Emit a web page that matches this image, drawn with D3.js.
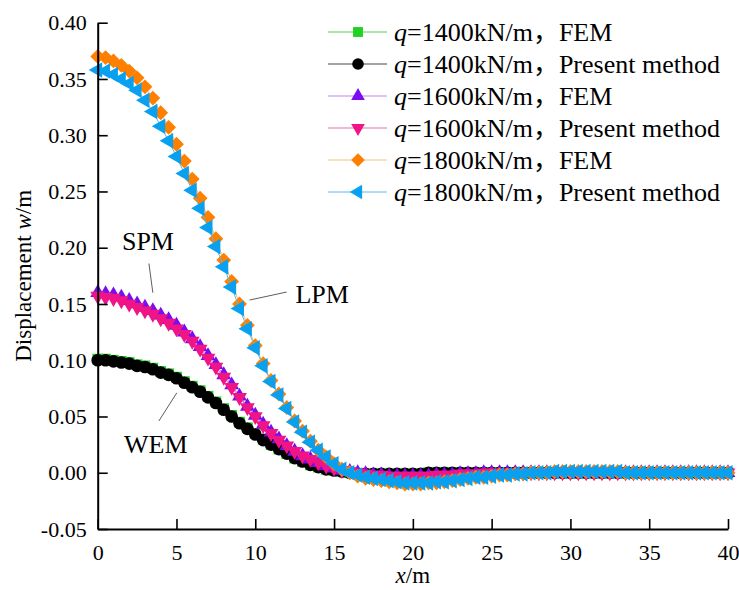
<!DOCTYPE html>
<meta charset="utf-8" />
<style>
  body { margin: 0; background: #fff; }
  text { font-family: "Liberation Serif", "Times New Roman", "Noto Sans CJK SC", serif; fill: #000; }
</style>
<svg width="739" height="590"></svg>
<script src="https://d3js.org/d3.v7.min.js"></script>
<script>
  // distance along the road, m
  var xValues = [0, 0.5, 1, 1.5, 2, 2.5, 3, 3.5, 4, 4.5, 5, 5.5, 6, 6.5, 7, 7.5, 8, 8.5, 9, 9.5,
    10, 10.5, 11, 11.5, 12, 12.5, 13, 13.5, 14, 14.5, 15, 15.5, 16, 16.5, 17, 17.5, 18, 18.5, 19, 19.5,
    20, 20.5, 21, 21.5, 22, 22.5, 23, 23.5, 24, 24.5, 25, 25.5, 26, 26.5, 27, 27.5, 28, 28.5, 29, 29.5,
    30, 30.5, 31, 31.5, 32, 32.5, 33, 33.5, 34, 34.5, 35, 35.5, 36, 36.5, 37, 37.5, 38, 38.5, 39, 39.5, 40];

  // q=1400 (WEM)
  var fem1400 = [0.101, 0.101, 0.100, 0.099, 0.098, 0.096, 0.095, 0.093, 0.090, 0.088,
    0.085, 0.081, 0.077, 0.073, 0.068, 0.063, 0.057, 0.051, 0.045, 0.040,
    0.035, 0.030, 0.025, 0.021, 0.017, 0.013, 0.010, 0.007, 0.005, 0.003,
    0.002, 0.001, 0.000, -0.001, -0.001, -0.001, -0.001, -0.001, -0.001, -0.001,
    -0.001, -0.001, 0, 0, 0, 0, 0, 0, 0, 0,
    0, 0, 0, 0, 0, 0, 0, 0, 0, 0,
    0, 0, 0, 0, 0, 0, 0, 0, 0, 0,
    0, 0, 0, 0, 0, 0, 0, 0, 0, 0, 0];
  var pm1400 = [0.100, 0.100, 0.099, 0.098, 0.097, 0.095, 0.094, 0.092, 0.089, 0.087,
    0.084, 0.080, 0.076, 0.072, 0.067, 0.062, 0.056, 0.050, 0.044, 0.039,
    0.034, 0.029, 0.025, 0.021, 0.017, 0.013, 0.010, 0.007, 0.005, 0.003,
    0.002, 0.001, 0.000, -0.001, -0.001, -0.001, -0.001, -0.001, -0.001, -0.001,
    -0.001, -0.001, 0, 0, 0, 0, 0, 0, 0, 0,
    0, 0, 0, 0, 0, 0, 0, 0, 0, 0,
    0, 0, 0, 0, 0, 0, 0, 0, 0, 0,
    0, 0, 0, 0, 0, 0, 0, 0, 0, 0, 0];

  // q=1600 (SPM)
  var fem1600 = [0.160, 0.159, 0.158, 0.156, 0.153, 0.150, 0.147, 0.144, 0.140, 0.136,
    0.131, 0.125, 0.119, 0.112, 0.104, 0.096, 0.087, 0.078, 0.068, 0.059,
    0.051, 0.043, 0.036, 0.030, 0.024, 0.019, 0.015, 0.012, 0.009, 0.006,
    0.004, 0.002, 0.001, 0.000, -0.001, -0.002, -0.002, -0.003, -0.003, -0.003,
    -0.003, -0.003, -0.003, -0.002, -0.002, -0.002, -0.001, -0.001, -0.001, 0,
    0, 0, 0, 0, 0, 0, 0, 0, 0, 0,
    0, 0, 0, 0, 0, 0, 0, 0, 0, 0,
    0, 0, 0, 0, 0, 0, 0, 0, 0, 0, 0];
  var pm1600 = [0.157, 0.156, 0.155, 0.153, 0.150, 0.147, 0.144, 0.141, 0.137, 0.133,
    0.128, 0.123, 0.117, 0.110, 0.102, 0.094, 0.085, 0.076, 0.067, 0.058,
    0.050, 0.042, 0.035, 0.029, 0.024, 0.019, 0.015, 0.012, 0.009, 0.006,
    0.004, 0.002, 0.001, 0.000, -0.001, -0.002, -0.002, -0.003, -0.003, -0.003,
    -0.003, -0.003, -0.003, -0.002, -0.002, -0.002, -0.001, -0.001, -0.001, 0,
    0, 0, 0, 0, 0, 0, 0, 0, 0, 0,
    0, 0, 0, 0, 0, 0, 0, 0, 0, 0,
    0, 0, 0, 0, 0, 0, 0, 0, 0, 0, 0];

  // q=1800 (LPM)
  var fem1800 = [0.370, 0.369, 0.366, 0.362, 0.357, 0.351, 0.343, 0.333, 0.320, 0.307,
    0.292, 0.277, 0.261, 0.244, 0.227, 0.208, 0.189, 0.170, 0.150, 0.131,
    0.113, 0.097, 0.082, 0.070, 0.058, 0.046, 0.037, 0.028, 0.020, 0.014,
    0.008, 0.003, 0.000, -0.003, -0.005, -0.006, -0.007, -0.008, -0.009, -0.010,
    -0.010, -0.010, -0.009, -0.009, -0.008, -0.007, -0.006, -0.005, -0.004, -0.004,
    -0.003, -0.002, -0.002, -0.001, -0.001, 0.000, 0.000, 0.000, 0.001, 0.001,
    0.001, 0.001, 0.001, 0.001, 0.001, 0.001, 0.001, 0.000, 0.000, 0.000,
    0, 0, 0, 0, 0, 0, 0, 0, 0, 0, 0];
  var pm1800 = [0.358, 0.357, 0.354, 0.350, 0.346, 0.340, 0.331, 0.321, 0.308, 0.295,
    0.281, 0.266, 0.251, 0.235, 0.218, 0.201, 0.183, 0.165, 0.146, 0.128,
    0.111, 0.095, 0.081, 0.069, 0.057, 0.045, 0.036, 0.027, 0.020, 0.014,
    0.008, 0.003, 0.000, -0.002, -0.004, -0.005, -0.006, -0.007, -0.008, -0.009,
    -0.009, -0.009, -0.009, -0.008, -0.008, -0.007, -0.006, -0.005, -0.004, -0.004,
    -0.003, -0.002, -0.002, -0.001, -0.001, 0.000, 0.000, 0.000, 0.001, 0.001,
    0.001, 0.001, 0.001, 0.001, 0.001, 0.001, 0.001, 0.000, 0.000, 0.000,
    0, 0, 0, 0, 0, 0, 0, 0, 0, 0, 0];

  var loads = ["1400", "1400", "1600", "1600", "1800", "1800"];
  var methods = ["FEM", "Present method", "FEM", "Present method", "FEM", "Present method"];
  var xTicks = [0, 5, 10, 15, 20, 25, 30, 35, 40];
  var yTicks = [-0.05, 0, 0.05, 0.10, 0.15, 0.20, 0.25, 0.30, 0.35, 0.40];

  var svg = d3.select("svg");

  var x = d3.scaleLinear().domain([0, 40]).range([97.7, 728]);
  var y = d3.scaleLinear().domain([-0.05, 0.40]).range([529, 22.7]);

  // one entry per plotted series, in drawing order
  var series = [
    { vals: fem1400, color: "#1fd21f", line: "#55cc55", shape: d3.symbolSquare, size: 115, rot: 0 },
    { vals: pm1400, color: "#000000", line: "#444444", shape: d3.symbolCircle, size: 125, rot: 0 },
    { vals: fem1600, color: "#7b0cf0", line: "#b888e8", shape: d3.symbolTriangle, size: 95, rot: 0 },
    { vals: pm1600, color: "#f01486", line: "#e070b0", shape: d3.symbolTriangle, size: 95, rot: 180 },
    { vals: fem1800, color: "#ff8000", line: "#f2c080", shape: d3.symbolSquare, size: 110, rot: 45 },
    { vals: pm1800, color: "#0aa0f0", line: "#60b8e8", shape: d3.symbolTriangle, size: 105, rot: -90 }
  ];

  var line = d3.line()
    .x(function(d, i) { return x(xValues[i]); })
    .y(function(d) { return y(d); });

  var plot = svg.append("g");

  series.forEach(function(s) {
    var g = plot.append("g");
    g.append("path")
      .attr("d", line(s.vals))
      .attr("fill", "none")
      .attr("stroke", s.line)
      .attr("stroke-width", 1);

    g.selectAll("path.mk")
      .data(s.vals)
      .enter()
      .append("path")
      .attr("class", "mk")
      .attr("d", d3.symbol().type(s.shape).size(s.size))
      .attr("fill", s.color)
      .attr("transform", function(d, i) {
        return "translate(" + x(xValues[i]) + "," + y(d) + ") rotate(" + s.rot + ")";
      });
  });

  // axes, ticks point inward
  var xAxis = svg.append("g")
    .attr("transform", "translate(0," + y(-0.05) + ")")
    .call(d3.axisBottom(x).tickValues(xTicks).tickSize(-10).tickSizeOuter(0).tickPadding(15)
      .tickFormat(function(d) { return d; }));

  var yAxis = svg.append("g")
    .attr("transform", "translate(" + x(0) + ",0)")
    .call(d3.axisLeft(y).tickValues(yTicks).tickSize(-10).tickSizeOuter(0).tickPadding(11)
      .tickFormat(function(d) { return d.toFixed(2); }));

  [xAxis, yAxis].forEach(function(a) {
    a.select(".domain").attr("stroke", "#000").attr("stroke-width", 2);
    a.selectAll(".tick line").attr("stroke", "#000").attr("stroke-width", 1.6);
    a.selectAll(".tick text")
      .attr("font-family", "Liberation Serif, serif")
      .attr("font-size", 22)
      .attr("fill", "#000");
  });

  // axis titles
  var xt = svg.append("text")
    .attr("x", x(20))
    .attr("y", 583)
    .attr("text-anchor", "middle")
    .attr("font-size", 23);
  xt.append("tspan").attr("font-style", "italic").text("x");
  xt.append("tspan").text("/m");

  var yt = svg.append("text")
    .attr("transform", "translate(31," + y(0.175) + ") rotate(-90)")
    .attr("text-anchor", "middle")
    .attr("font-size", 23);
  yt.append("tspan").text("Displacement ");
  yt.append("tspan").attr("font-style", "italic").text("w");
  yt.append("tspan").text("/m");

  // curve labels with leader lines (data units)
  var notes = [
    { label: "SPM", tx: 1.54, ty: 0.198, x1: 3.25, y1: 0.186, x2: 3.50, y2: 0.160 },
    { label: "WEM", tx: 1.67, ty: 0.0175, x1: 5.02, y1: 0.071, x2: 3.88, y2: 0.046 },
    { label: "LPM", tx: 12.55, ty: 0.151, x1: 9.64, y1: 0.1535, x2: 11.99, y2: 0.1606 }
  ];

  notes.forEach(function(n) {
    svg.append("line")
      .attr("x1", x(n.x1)).attr("y1", y(n.y1))
      .attr("x2", x(n.x2)).attr("y2", y(n.y2))
      .attr("stroke", "#333")
      .attr("stroke-width", 0.8);
    svg.append("text")
      .attr("x", x(n.tx))
      .attr("y", y(n.ty))
      .attr("font-size", 26)
      .text(n.label);
  });

  // legend
  var legend = svg.append("g").attr("transform", "translate(328,32)");

  series.forEach(function(s, i) {
    var row = legend.append("g").attr("transform", "translate(0," + i * 32 + ")");
    row.append("line")
      .attr("x1", 0).attr("x2", 59)
      .attr("stroke", s.line)
      .attr("stroke-width", 1);
    row.append("path")
      .attr("d", d3.symbol().type(s.shape).size(s.size * 0.85))
      .attr("fill", s.color)
      .attr("transform", "translate(30,0) rotate(" + s.rot + ")");
    var t = row.append("text")
      .attr("x", 66)
      .attr("y", 8.5)
      .attr("font-size", 26);
    t.append("tspan").attr("font-style", "italic").text("q");
    t.append("tspan").text("=" + loads[i] + "kN/m，" + methods[i]);
  });
</script>
